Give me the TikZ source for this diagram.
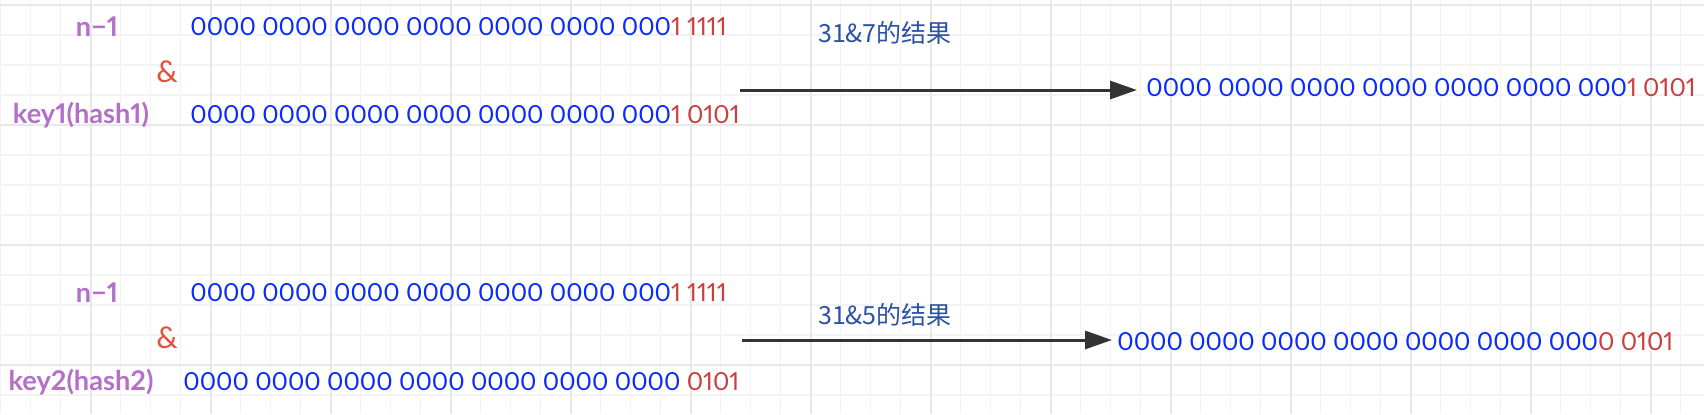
\documentclass[tikz,border=0pt]{standalone}
\usepackage{fontspec}
\setmainfont{Lato}[Numbers=Proportional]
\newfontfamily\cjk{Noto Sans CJK SC}
\usetikzlibrary{arrows.meta}
\definecolor{bitblue}{HTML}{0A2BFA}
\definecolor{bitred}{HTML}{C8403F}
\definecolor{labpurple}{HTML}{B46FC9}
\definecolor{andred}{HTML}{E5503C}
\definecolor{capblue}{HTML}{2B52A3}
\definecolor{arrowgray}{HTML}{333333}
\definecolor{gridlight}{HTML}{F3F3F3}
\definecolor{griddark}{HTML}{E8E8E8}
\tikzset{
    bits/.style = {anchor=west, inner sep=0pt, font=\fontsize{12.45}{15}\selectfont, text=bitblue},
    rowlabel/.style = {inner sep=0pt, font=\fontsize{13.6}{16}\selectfont\bfseries, text=labpurple},
    andsign/.style = {inner sep=0pt, font=\fontsize{15}{17}\selectfont, text=andred},
    caption/.style = {inner sep=0pt, font=\cjk\fontsize{12.5}{15}\selectfont, text=capblue},
    arrow/.style = {line width=1.5pt, draw=arrowgray, -{Triangle[length=13.5pt,width=9pt]}},
    gridminor/.style = {draw=gridlight, line width=0.75pt},
    gridmajor/.style = {draw=griddark, line width=1pt}
}
\newcommand{\hibit}[1]{\textcolor{bitred}{#1}}

\begin{document}
\begin{tikzpicture}[x=0.5pt, y=-0.5pt]
\useasboundingbox [fill=white] (0,0) rectangle (1704,414);
\foreach \x in {0.7,30.7,...,1700} \draw [gridminor] (\x,0) -- (\x,414);
\foreach \y in {5,35,...,410} \draw [gridminor] (0,\y) -- (1704,\y);
\foreach \x in {90.7,210.7,...,1700} \draw [gridmajor] (\x,0) -- (\x,414);
\foreach \y in {5,125,...,410} \draw [gridmajor] (0,\y) -- (1704,\y);

\node (mask1) [rowlabel] at (97,27) {n−1};
\node (and1) [andsign] at (167,72) {\&};
\node (key1) [rowlabel] at (81,115) {key1(hash1)};
\node (mask1bits) [bits] at (190,27) {0000 0000 0000 0000 0000 0000 000\hibit{1 1111}};
\node (hash1bits) [bits] at (190,115) {0000 0000 0000 0000 0000 0000 000\hibit{1 0101}};
\coordinate (from1) at (740,90);
\node (res1) [bits, inner xsep=4.5pt] at (1137,88) {0000 0000 0000 0000 0000 0000 000\hibit{1 0101}};
\node (cap1) [caption] at (885,33) {31\&7的结果};
\draw [arrow] (from1) -- (from1 -| res1.west);

\node (mask2) [rowlabel] at (97,293) {n−1};
\node (and2) [andsign] at (167,338) {\&};
\node (key2) [rowlabel] at (81,382) {key2(hash2)};
\node (mask2bits) [bits] at (190,293) {0000 0000 0000 0000 0000 0000 000\hibit{1 1111}};
\node (hash2bits) [bits] at (183,382) {0000 0000 0000 0000 0000 0000 0000 \hibit{0101}};
\coordinate (from2) at (742,340);
\node (res2) [bits, inner xsep=2.5pt] at (1112,342) {0000 0000 0000 0000 0000 0000 000\hibit{0 0101}};
\node (cap2) [caption] at (885,315) {31\&5的结果};
\draw [arrow] (from2) -- (from2 -| res2.west);
\end{tikzpicture}
\end{document}
